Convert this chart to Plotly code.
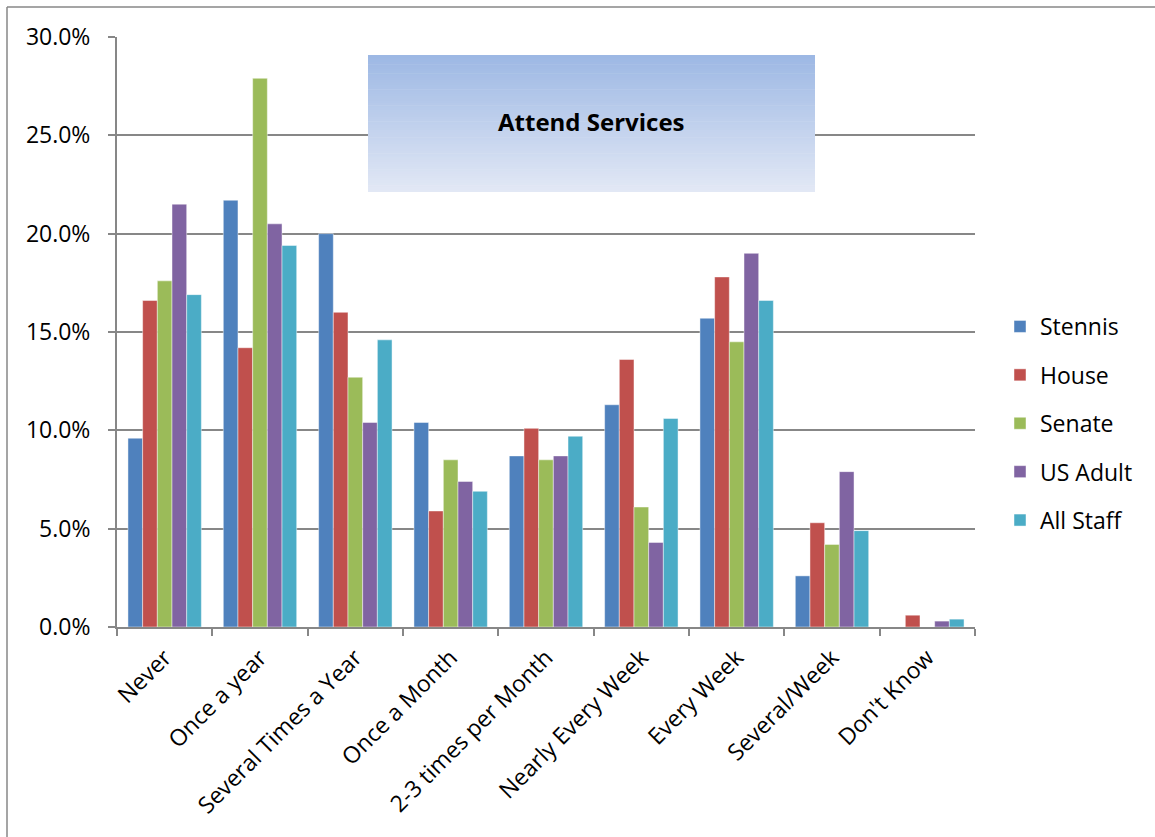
import plotly.graph_objects as go

# Frequency of attending religious services, share of respondents per group
categories = ["Never", "Once a year", "Several Times a Year", "Once a Month",
              "2-3 times per Month", "Nearly Every Week", "Every Week",
              "Several/Week", "Don't Know"]

stennis   = [0.096, 0.217, 0.200, 0.104, 0.087, 0.113, 0.157, 0.026, 0.000]
house     = [0.166, 0.142, 0.160, 0.059, 0.101, 0.136, 0.178, 0.053, 0.006]
senate    = [0.176, 0.279, 0.127, 0.085, 0.085, 0.061, 0.145, 0.042, 0.000]
us_adult  = [0.215, 0.205, 0.104, 0.074, 0.087, 0.043, 0.190, 0.079, 0.003]
all_staff = [0.169, 0.194, 0.146, 0.069, 0.097, 0.106, 0.166, 0.049, 0.004]

series_names = ["Stennis", "House", "Senate", "US Adult", "All Staff"]
series_values = [stennis, house, senate, us_adult, all_staff]
series_colors = ["#4F81BD", "#C0504D", "#9BBB59", "#8064A2", "#4BACC6"]

y_ticks = [0.0, 0.05, 0.10, 0.15, 0.20, 0.25, 0.30]

W, H = 1155, 837
PL, PR, PT, PB = 117, 975, 37, 627  # plot area in pixels
FONT = "Open Sans"
GRID = "#878787"


def px_x(px):
    return (px - PL) / (PR - PL)


def px_y(py):
    return (PB - py) / (PB - PT)


fig = go.Figure()
for name, vals, col in zip(series_names, series_values, series_colors):
    fig.add_trace(go.Bar(
        name=name, x=categories, y=vals, legendgroup=name,
        marker=dict(color=col, line=dict(color="rgba(255,255,255,0.45)", width=1)),
    ))

shapes = []
# gradient-filled title box
box_x0, box_x1, box_y0, box_y1 = 368, 815, 55, 192
top_rgb = (157, 184, 228)
bot_rgb = (226, 232, 245)
n_strips = 60
for i in range(n_strips):
    t = i / (n_strips - 1)
    c = tuple(round(a + (b - a) * t) for a, b in zip(top_rgb, bot_rgb))
    y0 = box_y0 + (box_y1 - box_y0) * i / n_strips
    y1 = box_y0 + (box_y1 - box_y0) * (i + 1) / n_strips + 0.6
    shapes.append(dict(type="rect", xref="paper", yref="paper",
                       x0=px_x(box_x0), x1=px_x(box_x1),
                       y0=px_y(min(y1, box_y1)), y1=px_y(y0),
                       fillcolor="rgb(%d,%d,%d)" % c, line=dict(width=0),
                       layer="above"))

# chart frame (top and left edges)
shapes.append(dict(type="line", xref="paper", yref="paper",
                   x0=px_x(7), x1=px_x(1200), y0=px_y(7), y1=px_y(7),
                   line=dict(color=GRID, width=1.5)))
shapes.append(dict(type="line", xref="paper", yref="paper",
                   x0=px_x(7), x1=px_x(7), y0=px_y(7), y1=px_y(900),
                   line=dict(color=GRID, width=1.5)))

fig.update_layout(
    width=W, height=H,
    margin=dict(l=PL, r=W - PR, t=PT, b=H - PB, pad=0),
    paper_bgcolor="white", plot_bgcolor="white",
    barmode="group", bargap=0.23, bargroupgap=0,
    font=dict(family=FONT, size=23, color="#000000"),
    shapes=shapes,
    annotations=[dict(text="<b>Attend Services</b>", xref="paper", yref="paper",
                      x=px_x(591), y=px_y(122), showarrow=False,
                      xanchor="center", yanchor="middle",
                      font=dict(family=FONT, size=24, color="#000000"))],
    legend=dict(xref="container", yref="container",
                x=1000 / W, y=1 - 423.5 / H, xanchor="left", yanchor="middle",
                traceorder="grouped", tracegroupgap=15.5,
                font=dict(family=FONT, size=23), bgcolor="rgba(0,0,0,0)"),
    xaxis=dict(type="category", tickangle=-45, tickson="boundaries",
               ticks="outside", ticklen=7, tickwidth=1.5, tickcolor=GRID,
               showline=True, linecolor=GRID, linewidth=2,
               showgrid=False, ticklabelstandoff=6,
               tickfont=dict(family=FONT, size=23)),
    yaxis=dict(range=[0, 0.30], tickvals=y_ticks, tickformat=".1%",
               ticks="outside", ticklen=7, tickwidth=1.5, tickcolor=GRID,
               showline=True, linecolor=GRID, linewidth=2,
               showgrid=True, gridcolor=GRID, gridwidth=1.5,
               zeroline=False, ticklabelstandoff=13,
               tickfont=dict(family=FONT, size=23)),
)

fig.write_html("out.html")
